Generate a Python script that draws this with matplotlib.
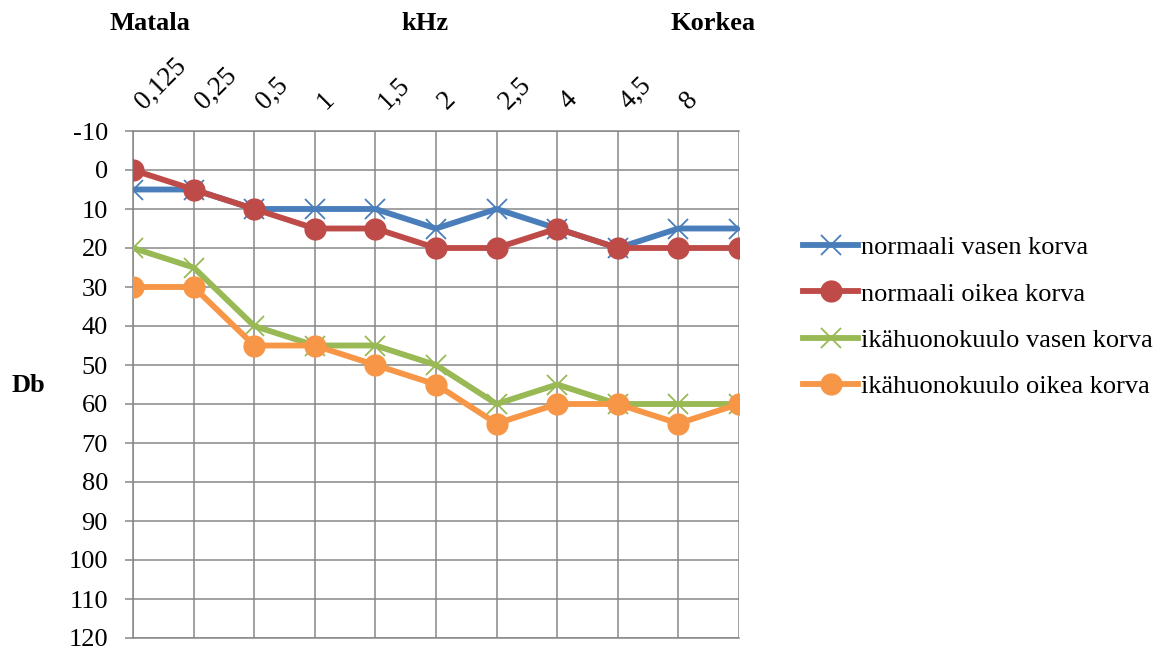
import matplotlib
matplotlib.use("Agg")
import matplotlib.pyplot as plt
import matplotlib.transforms as mtransforms

plt.rcParams['font.family'] = ['Liberation Serif', 'DejaVu Serif']

categories = ["0,125", "0,25", "0,5", "1", "1,5", "2", "2,5", "4", "4,5", "8", ""]
normaali_vasen = [5, 5, 10, 10, 10, 15, 10, 15, 20, 15, 15]
normaali_oikea = [0, 5, 10, 15, 15, 20, 20, 15, 20, 20, 20]
ika_vasen = [20, 25, 40, 45, 45, 50, 60, 55, 60, 60, 60]
ika_oikea = [30, 30, 45, 45, 50, 55, 65, 60, 60, 65, 60]
y_ticks = list(range(-10, 121, 10))

W, H = 1165, 650
fig = plt.figure(figsize=(W / 100, H / 100), dpi=100)
left, right, top, bottom = 133, 739, 131, 638
ax = fig.add_axes([left / W, 1 - bottom / H, (right - left) / W, (bottom - top) / H])

FS = 19
grid_c = '#878787'
x = list(range(len(categories)))
LW = 4.2

ax.plot(x, normaali_vasen, color='#4A7EBB', lw=LW, marker='x', ms=14, mew=1.3,
        label='normaali vasen korva', zorder=3)
ax.plot(x, normaali_oikea, color='#BE4B48', lw=LW, marker='o', ms=15,
        label='normaali oikea korva', zorder=4)
ax.plot(x, ika_vasen, color='#98B954', lw=LW, marker='x', ms=14, mew=1.3,
        label='ikähuonokuulo vasen korva', zorder=5)
ax.plot(x, ika_oikea, color='#F79646', lw=LW, marker='o', ms=15,
        label='ikähuonokuulo oikea korva', zorder=6)

ax.set_xlim(0, len(categories) - 1)
ax.set_ylim(120, -10)
ax.set_yticks(y_ticks)
ax.set_yticklabels([str(v) for v in y_ticks], fontsize=FS)
ax.set_xticks(x)
ax.set_xticklabels([])
ax.tick_params(axis='x', length=0)
ax.tick_params(axis='y', length=6, width=1.1, color=grid_c, pad=12)
ax.grid(True, color=grid_c, lw=1.1)
ax.set_axisbelow(True)
for s in ax.spines.values():
    s.set_color(grid_c)
    s.set_linewidth(1.1)
ax.spines['right'].set_visible(False)
ax.spines['top'].set_visible(True)

# rotated category labels above the plot
trans = mtransforms.blended_transform_factory(ax.transData, ax.transAxes)
off = mtransforms.ScaledTranslation(11 / 100, 21 / 100, fig.dpi_scale_trans)
for i, lab in enumerate(categories):
    ax.text(i, 1.0, lab, transform=trans + off, rotation=45, rotation_mode='anchor',
            ha='left', va='baseline', fontsize=FS + 0.5, clip_on=False)

fig.text(150 / W, 1 - 24 / H, 'Matala', ha='center', va='center', fontsize=FS, fontweight='bold')
fig.text(425 / W, 1 - 24 / H, 'kHz', ha='center', va='center', fontsize=FS, fontweight='bold')
fig.text(713 / W, 1 - 24 / H, 'Korkea', ha='center', va='center', fontsize=FS, fontweight='bold')
fig.text(28 / W, 1 - 386 / H, 'Db', ha='center', va='center', fontsize=FS, fontweight='bold')

leg = fig.legend(loc='upper left', bbox_to_anchor=(803 / W, 1 - 236 / H), frameon=False,
                 fontsize=FS, handlelength=2.1, handletextpad=0.1, labelspacing=0.86,
                 borderpad=0, borderaxespad=0)

fig.savefig('out.png', dpi=100)
